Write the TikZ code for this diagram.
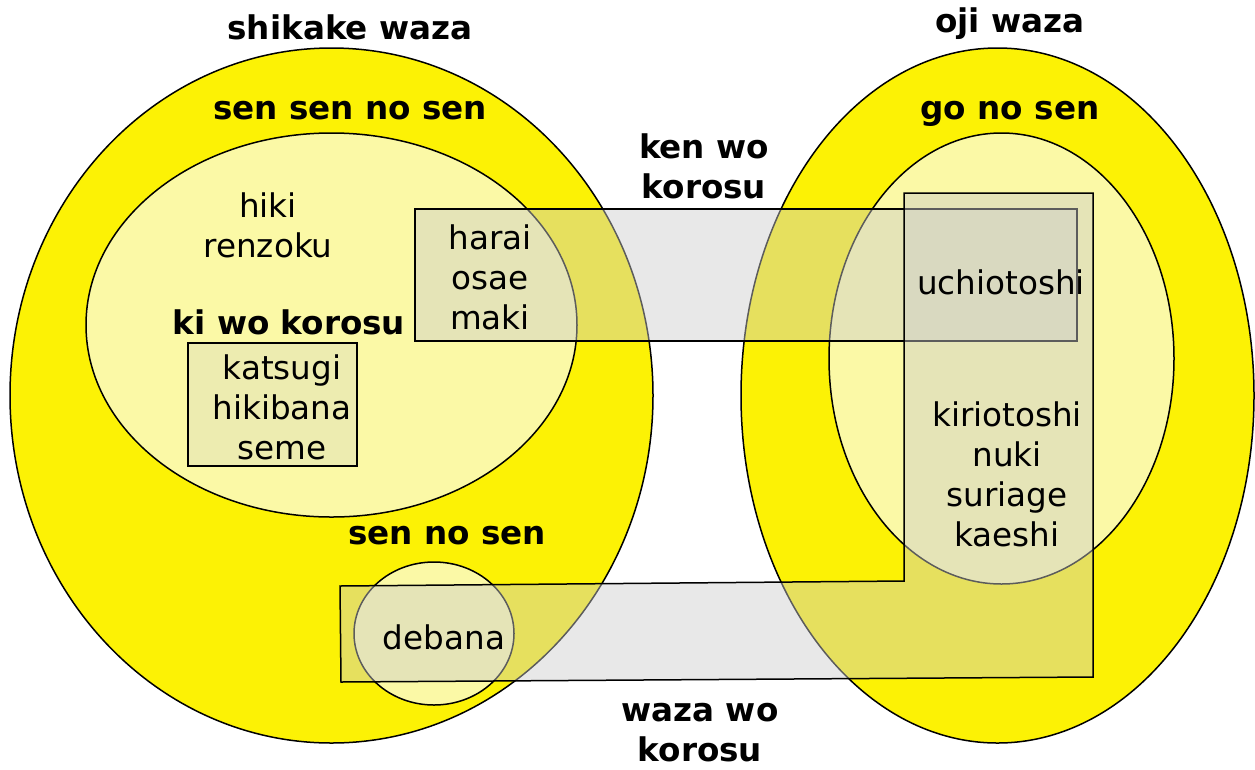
\documentclass[tikz,border=0pt]{standalone}
\usepackage{fontspec}
\setmainfont{DejaVu Sans}
\definecolor{bigyellow}{RGB}{252,242,5}
\definecolor{paleyellow}{RGB}{251,249,166}
\definecolor{veil}{RGB}{204,204,204}
\tikzset{
  outer/.style={draw=black, line width=1.5pt, fill=bigyellow},
  inner/.style={draw=black, line width=1.5pt, fill=paleyellow},
  veilbox/.style={draw=black, line width=1.5pt, fill=veil, fill opacity=0.45},
  lightbox/.style={draw=black, line width=1.5pt, fill=veil, fill opacity=0.28},
  lbl/.style={font=\fontsize{32.6}{40}\selectfont\bfseries, align=center, inner sep=0pt},
  txt/.style={font=\fontsize{32.6}{40}\selectfont, align=center, inner sep=0pt},
}
\begin{document}
\begin{tikzpicture}[x=1pt,y=-1pt]
\useasboundingbox (0,0) rectangle (1255,769);
% big ellipses
\draw[outer] (331.5,395.5) ellipse [x radius=321.5, y radius=347.5];
\draw[outer] (997.5,395.5) ellipse [x radius=256.5, y radius=347.5];
% inner ellipses
\draw[inner] (331.5,325) ellipse [x radius=245.5, y radius=192];
\draw[inner] (1001.5,358.5) ellipse [x radius=172.5, y radius=225.5];
\draw[inner] (434,633.5) ellipse [x radius=80, y radius=71.5];
% katsugi box
\draw[lightbox] (188,343) rectangle (357,466);
% ken wo korosu rectangle
\draw[veilbox] (415,209) rectangle (1077,341);
% waza wo korosu polygon
\draw[veilbox] (340,586) -- (904,581) -- (904,193) -- (1093,193) -- (1093,677) -- (341,682) -- cycle;
% labels
\node[lbl] (shikake) at (350,27) {shikake waza};
\node[lbl] (oji) at (1010,24) {oji waza};
\node[lbl] (sensen) at (350,111) {sen sen no sen};
\node[lbl] (gonosen) at (1010,114) {go no sen};
\node[lbl] (ken) at (704,166) {ken wo\\korosu};
\node[lbl] (ki) at (289,322) {ki wo korosu};
\node[lbl] (sennosen) at (447,536) {sen no sen};
\node[lbl] (waza) at (700,733) {waza wo\\korosu};
% texts
\node[txt] (hiki) at (268,225) {hiki\\renzoku};
\node[txt] (katsugi) at (282,407) {katsugi\\hikibana\\seme};
\node[txt] (harai) at (490,277) {harai\\osae\\maki};
\node[txt] (uchi) at (1001,282) {uchiotoshi};
\node[txt] (kiri) at (1007,474) {kiriotoshi\\nuki\\suriage\\kaeshi};
\node[txt] (debana) at (444,637) {debana};
\end{tikzpicture}
\end{document}
